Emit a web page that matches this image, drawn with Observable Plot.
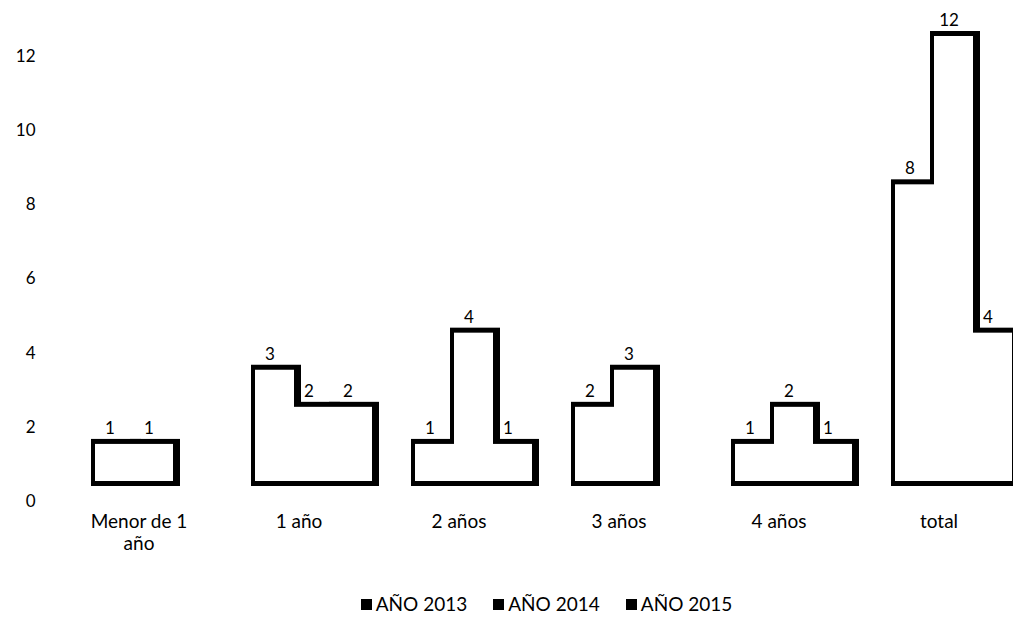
<!DOCTYPE html>
<html><head><meta charset="utf-8">
<script src="https://cdn.jsdelivr.net/npm/d3@7"></script>
<script src="https://cdn.jsdelivr.net/npm/@observablehq/plot@0.6"></script>
<style>
body{margin:0;background:#fff;font-family:Lato,"Open Sans",sans-serif;color:#000;}
#chart svg{display:block;}
#legend{display:flex;justify-content:center;align-items:center;gap:26px;font-size:19px;height:30px;margin-top:8px;padding-left:80px;}
#legend .sw{display:inline-block;width:11px;height:11px;background:#000;margin-right:4px;vertical-align:middle;position:relative;top:-1px;}
</style></head><body><div id="chart"></div><div id="legend"></div>
<script>
const categories = ["Menor de 1 año","1 año","2 años","3 años","4 años","total"];
const categoryLabels = ["Menor de 1\naño","1 año","2 años","3 años","4 años","total"];
const series = ["AÑO 2013","AÑO 2014","AÑO 2015"];
const values2013 = [1,3,1,2,1,8];
const values2014 = [1,2,4,3,2,12];
const values2015 = [0,2,1,0,1,4];
const yTicks = [0,2,4,6,8,10,12];

const seriesValues = [values2013, values2014, values2015];
const rows = [];
categories.forEach((c,i)=>{
  seriesValues.forEach((arr,j)=>{
    if (arr[i] > 0) rows.push({category:c, series:series[j], value:arr[i]});
  });
});

const chart = Plot.plot({
  width:1013, height:580,
  marginLeft:93, marginRight:0, marginTop:36, marginBottom:99,
  style:{fontFamily:"Lato, 'Open Sans', sans-serif", fontSize:"17px", color:"#000", background:"#fff"},
  fx:{domain:categories, paddingInner:0.27, paddingOuter:0, label:null, axis:null},
  x:{domain:series, padding:0, axis:null},
  y:{domain:[0,12], axis:null},
  marks:[
    Plot.barY(rows,{fx:"category",x:"series",y:"value",fill:"#000",insetLeft:-4,insetRight:-7,insetTop:-5,insetBottom:-5}),
    Plot.barY(rows,{fx:"category",x:"series",y:"value",fill:"#fff"}),
    Plot.text(rows,{fx:"category",x:"series",y:"value",text:"value",dy:-16,dx:-5,fontSize:17,fill:"#000"}),
    Plot.axisY(yTicks,{tickSize:0,tickPadding:60,dy:20,fontSize:17,label:null}),
    Plot.axisFx({anchor:"bottom",tickSize:0,tickPadding:30,dx:-15,fontSize:19,lineHeight:1.2,label:null,tickFormat:d=>categoryLabels[categories.indexOf(d)]})
  ]
});
document.getElementById("chart").append(chart);

const legend = document.getElementById("legend");
series.forEach(s=>{
  const item = document.createElement("span");
  const sw = document.createElement("span");
  sw.className = "sw";
  item.append(sw, document.createTextNode(s));
  legend.append(item);
});
</script></body></html>
